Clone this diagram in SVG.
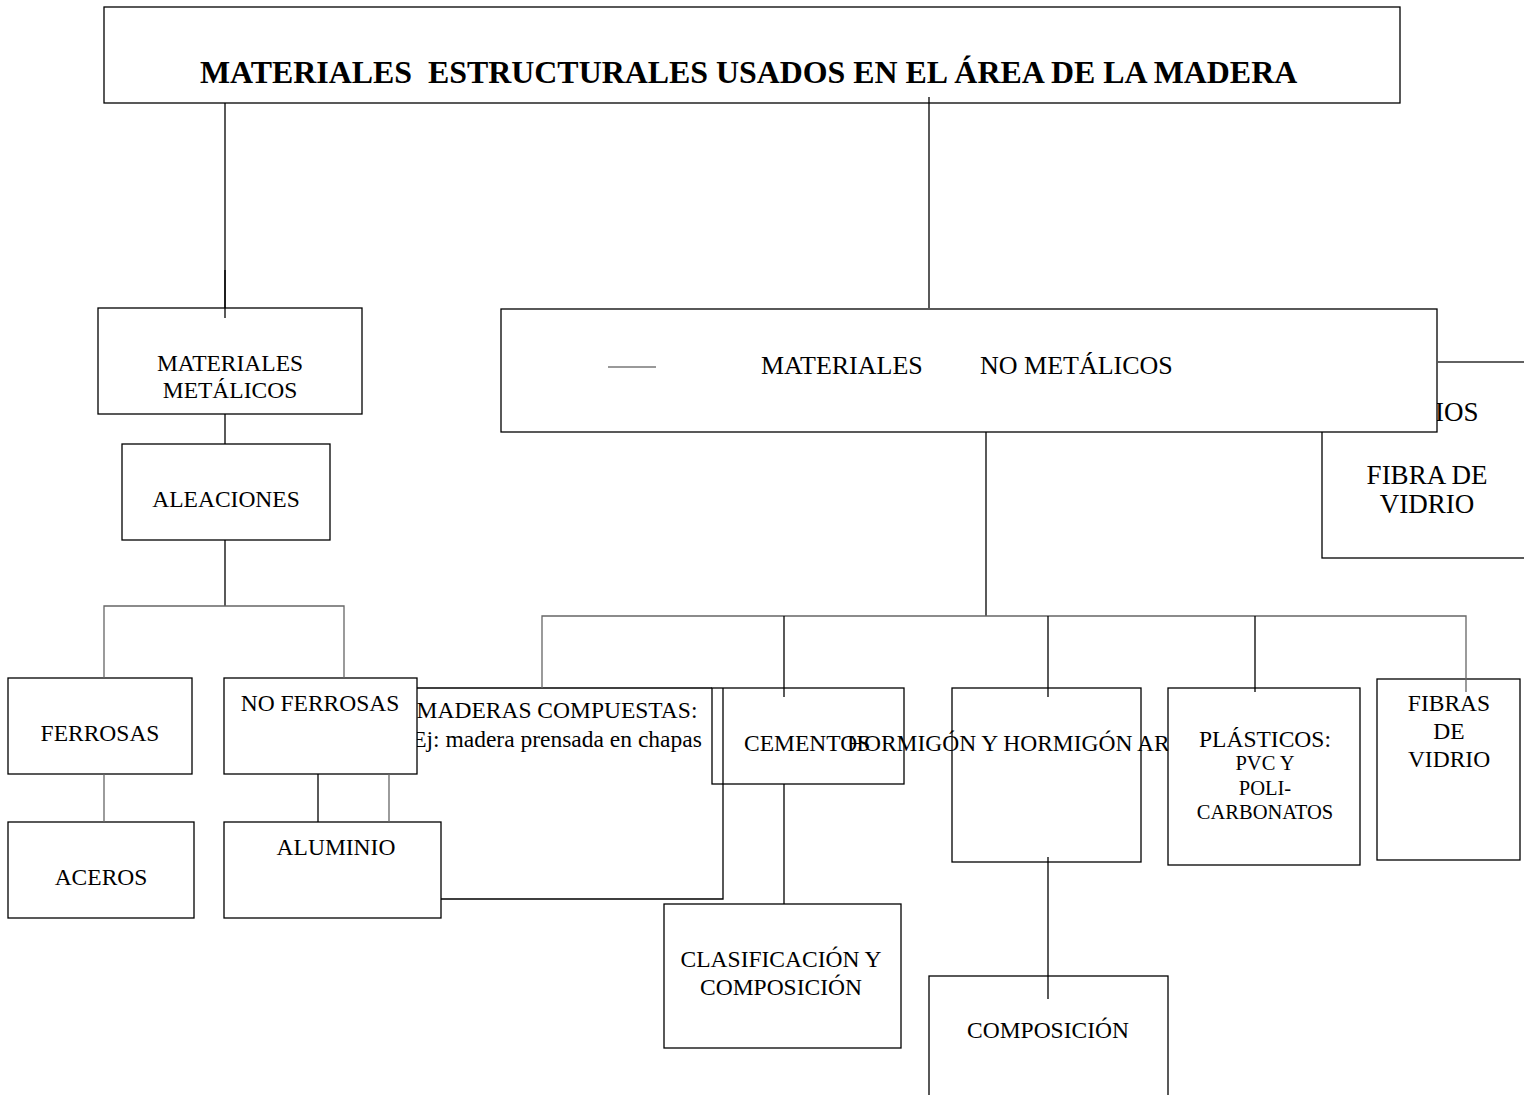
<svg xmlns="http://www.w3.org/2000/svg" width="1524" height="1095" viewBox="0 0 1524 1095">
<style>
.box{fill:#fff;stroke:#000;stroke-width:1.3}
.t{font-family:"Liberation Serif","Times New Roman",serif;font-size:23.5px;fill:#000;text-anchor:middle}
.ts{font-size:20.5px}
.tl{font-size:26px}
.tx{font-size:27px}
.c{fill:none;stroke:#000;stroke-width:1.3}
.g{stroke:#666}
</style>
<rect width="1524" height="1095" fill="#fff"/>

<g id="n-title">
<rect class="box" x="104" y="7" width="1296" height="96"/>
<text x="200" y="83" xml:space="preserve" style="font-family:'Liberation Serif','Times New Roman',serif;font-size:31.9px;font-weight:bold">MATERIALES  ESTRUCTURALES USADOS EN EL ÁREA DE LA MADERA</text>
</g>

<g id="n-fibra-top">
<rect class="box" x="1322" y="362" width="220" height="196"/>
<text class="t tx" x="1435" y="421" style="text-anchor:start">IOS</text>
<text class="t tx" x="1427" y="484">FIBRA DE</text>
<text class="t tx" x="1427" y="513">VIDRIO</text>
</g>

<g id="n-metalicos">
<rect class="box" x="98" y="308" width="264" height="106"/>
<text class="t" x="230" y="371">MATERIALES</text>
<text class="t" x="230" y="398">METÁLICOS</text>
</g>

<g id="n-nometalicos">
<rect class="box" x="501" y="309" width="936" height="123"/>
<line x1="608" y1="367" x2="656" y2="367" stroke="#777" stroke-width="1.5"/>
<text class="t tl" y="374" style="text-anchor:start"><tspan x="761">MATERIALES</tspan><tspan x="980">NO METÁLICOS</tspan></text>
</g>

<g id="n-aleaciones">
<rect class="box" x="122" y="444" width="208" height="96"/>
<text class="t" x="226" y="507">ALEACIONES</text>
</g>

<g id="n-ferrosas">
<rect class="box" x="8" y="678" width="184" height="96"/>
<text class="t" x="100" y="741">FERROSAS</text>
</g>

<g id="n-maderas">
<line class="c" x1="417" y1="688" x2="712" y2="688"/>
<text class="t" x="557" y="718">MADERAS COMPUESTAS:</text>
<text class="t" x="557" y="747">Ej: madera prensada en chapas</text>
</g>

<g id="n-noferrosas">
<rect class="box" x="224" y="678" width="193" height="96"/>
<text class="t" x="320" y="711">NO FERROSAS</text>
</g>

<g id="n-aceros">
<rect class="box" x="8" y="822" width="186" height="96"/>
<text class="t" x="101" y="885">ACEROS</text>
</g>

<g id="n-aluminio">
<rect class="box" x="224" y="822" width="217" height="96"/>
<text class="t" x="336" y="855">ALUMINIO</text>
</g>

<g id="n-cementos">
<rect class="box" x="712" y="688" width="192" height="96"/>
<text class="t" x="744" y="751" style="text-anchor:start">CEMENTOS</text>
</g>

<g id="n-hormigon">
<rect class="box" x="952" y="688" width="189" height="174"/>
<text class="t" x="847" y="751" style="text-anchor:start">HORMIGÓN Y HORMIGÓN AR</text>
</g>

<g id="n-plasticos">
<rect class="box" x="1168" y="688" width="192" height="177"/>
<text class="t" x="1265" y="747">PLÁSTICOS:</text>
<text class="t ts" x="1265" y="770">PVC Y</text>
<text class="t ts" x="1265" y="795">POLI-</text>
<text class="t ts" x="1265" y="819">CARBONATOS</text>
</g>

<g id="n-fibras">
<rect class="box" x="1377" y="679" width="143" height="181"/>
<text class="t" x="1449" y="711">FIBRAS</text>
<text class="t" x="1449" y="739">DE</text>
<text class="t" x="1449" y="767">VIDRIO</text>
</g>

<g id="n-clasificacion">
<rect class="box" x="664" y="904" width="237" height="144"/>
<text class="t" x="781" y="967">CLASIFICACIÓN Y</text>
<text class="t" x="781" y="995">COMPOSICIÓN</text>
</g>

<g id="n-composicion">
<rect class="box" x="929" y="976" width="239" height="140"/>
<text class="t" x="1048" y="1038">COMPOSICIÓN</text>
</g>

<g id="connectors">
<line class="c" x1="225" y1="103" x2="225" y2="318"/>
<line class="c" x1="225" y1="270" x2="225" y2="308" stroke-width="2.2"/>
<line class="c" x1="929" y1="97" x2="929" y2="308"/>
<line class="c g" x1="1437" y1="362" x2="1524" y2="362"/>
<line class="c" x1="225" y1="414" x2="225" y2="444"/>
<polyline class="c" points="225,540 225,606"/>
<polyline class="c g" points="104,678 104,606 344,606 344,678"/>
<line class="c g" x1="104" y1="774" x2="104" y2="822"/>
<line class="c" x1="318" y1="774" x2="318" y2="822"/>
<line class="c g" x1="389" y1="774" x2="389" y2="822"/>
<polyline class="c" points="441,899 723,899 723,688"/>
<line class="c" x1="986" y1="432" x2="986" y2="616"/>
<polyline class="c g" points="542,688 542,616 1466,616 1466,692"/>
<line class="c" x1="784" y1="616" x2="784" y2="697"/>
<line class="c" x1="1048" y1="616" x2="1048" y2="697"/>
<line class="c" x1="1255" y1="616" x2="1255" y2="692"/>
<line class="c" x1="784" y1="784" x2="784" y2="904"/>
<line class="c" x1="1048" y1="857" x2="1048" y2="999"/>
</g>
</svg>
